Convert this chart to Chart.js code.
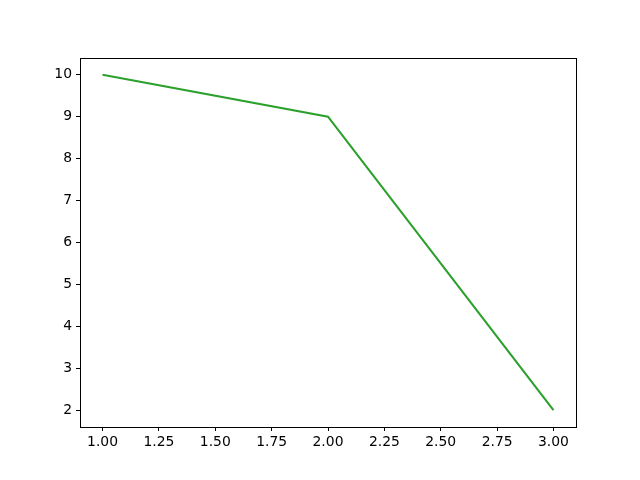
<!DOCTYPE html>
<html>
<head>
<meta charset="utf-8">
<script src="https://cdn.jsdelivr.net/npm/chart.js@4/dist/chart.umd.min.js"></script>
<style>
  html, body { margin: 0; padding: 0; background: #fff; }
  #wrap { width: 640px; height: 480px; }
</style>
</head>
<body>
<div id="wrap"><canvas id="chart" width="640" height="480"></canvas></div>
<script>
// Datos
const xValues = [1, 2, 3];
const yValues = [10, 9, 2];
const xTicks = [1.00, 1.25, 1.50, 1.75, 2.00, 2.25, 2.50, 2.75, 3.00];
const yTicks = [2, 3, 4, 5, 6, 7, 8, 9, 10];

const verde = '#2ca02c';
const negro = '#000';
const fuente = { family: 'DejaVu Sans', size: 13.9 };

// Marco alrededor del area del grafico
const marco = {
  id: 'marco',
  afterDraw(chart) {
    const { ctx, chartArea: a } = chart;
    ctx.save();
    ctx.strokeStyle = negro;
    ctx.lineWidth = 1;
    ctx.strokeRect(Math.round(a.left) + 0.5, Math.round(a.top) + 0.5,
      Math.round(a.right - a.left), Math.round(a.bottom - a.top));
    ctx.restore();
  }
};

new Chart(document.getElementById('chart'), {
  type: 'line',
  data: {
    datasets: [{
      data: xValues.map((x, i) => ({ x, y: yValues[i] })),
      borderColor: verde,
      borderWidth: 2.1,
      pointRadius: 0,
      tension: 0,
      fill: false
    }]
  },
  options: {
    responsive: false,
    animation: false,
    devicePixelRatio: 1,
    layout: { padding: { top: 58, right: 64, left: 0, bottom: 0 } },
    plugins: { legend: { display: false }, tooltip: { enabled: false } },
    scales: {
      x: {
        type: 'linear',
        min: 0.9,
        max: 3.1,
        afterBuildTicks: s => { s.ticks = xTicks.map(v => ({ value: v })); },
        afterFit: s => { s.height = 53; },
        grid: { drawOnChartArea: false, color: negro, tickLength: 4, tickWidth: 1 },
        border: { display: false },
        ticks: { color: negro, font: fuente, padding: 3, maxRotation: 0, callback: v => v.toFixed(2) }
      },
      y: {
        min: 1.6,
        max: 10.4,
        afterBuildTicks: s => { s.ticks = yTicks.map(v => ({ value: v })); },
        afterFit: s => { s.width = 80; },
        grid: { drawOnChartArea: false, color: negro, tickLength: 4, tickWidth: 1 },
        border: { display: false },
        ticks: { color: negro, font: fuente, padding: 4, callback: v => String(v) }
      }
    }
  },
  plugins: [marco]
});
</script>
</body>
</html>
